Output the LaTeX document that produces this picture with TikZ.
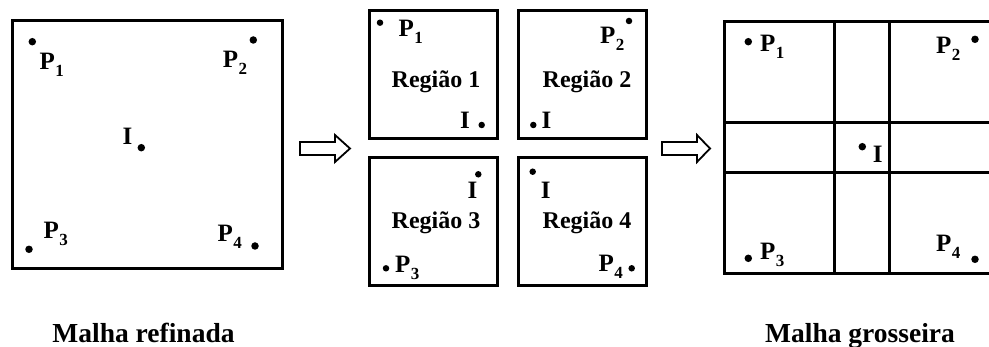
\documentclass[tikz,border=0pt]{standalone}
\usepackage{fontspec}
\setmainfont{Liberation Serif}
\newcommand{\Psub}[1]{P\kern0.5pt\raisebox{-7pt}{\fontsize{17}{17}\selectfont #1}}
\begin{document}
\begin{tikzpicture}[x=1pt,y=-1pt,
  box/.style={draw, line width=3pt},
  gridline/.style={draw, line width=3pt},
  dot/.style={circle, fill, inner sep=0pt, minimum size=7.5pt},
  sdot/.style={circle, fill, inner sep=0pt, minimum size=6.5pt},
  lbl/.style={inner sep=0pt, anchor=base west, font=\bfseries\fontsize{25}{25}\selectfont},
  reg/.style={inner sep=0pt, anchor=base, font=\bfseries\fontsize{24}{24}\selectfont},
  captext/.style={inner sep=0pt, anchor=base, font=\bfseries\fontsize{27.5}{27.5}\selectfont},
  blockarrow/.style={draw, line width=1.8pt, fill=white, line join=miter}]
\useasboundingbox (0,0) rectangle (989,347);

% ---------- left: refined mesh ----------
\draw[box] (12,21) rectangle (282,269);
\node[dot] (l1d) at (32.3,41.7) {};
\node[lbl] (l1) at (39.3,70) {\Psub{1}};
\node[dot] (l2d) at (253.3,40) {};
\node[lbl] (l2) at (222.7,67.7) {\Psub{2}};
\node[lbl] (lI) at (122.3,145) {I};
\node[dot] (lId) at (141.3,147.7) {};
\node[dot] (l3d) at (29,249.3) {};
\node[lbl] (l3) at (43.3,239) {\Psub{3}};
\node[lbl] (l4) at (217.3,241.7) {\Psub{4}};
\node[dot] (l4d) at (255,246) {};

% ---------- arrow 1 ----------
\draw[blockarrow] (300,142) -- (335,142) -- (335,135) -- (350,148.5) -- (335,162) -- (335,155) -- (300,155) -- cycle;

% ---------- middle: four regions ----------
\draw[box] (369,11) rectangle (497.3,138.3);
\draw[box] (518.3,11) rectangle (646.7,138.3);
\draw[box] (369,157.3) rectangle (497.3,285.5);
\draw[box] (518.3,157.3) rectangle (646.7,285.5);

% region 1
\node[sdot] (r1d) at (380,22.7) {};
\node[lbl] (r1p) at (398.3,36.7) {\Psub{1}};
\node[reg] (r1t) at (436,87.3) {Região 1};
\node[lbl] (r1i) at (460,129) {I};
\node[sdot] (r1id) at (481.7,125) {};
% region 2
\node[sdot] (r2d) at (629,21) {};
\node[lbl] (r2p) at (600,43.3) {\Psub{2}};
\node[reg] (r2t) at (587,87.3) {Região 2};
\node[sdot] (r2id) at (533.3,125) {};
\node[lbl] (r2i) at (541.5,129) {I};
% region 3
\node[sdot] (r3id) at (478.3,174.3) {};
\node[lbl] (r3i) at (467.3,199) {I};
\node[reg] (r3t) at (436,228.5) {Região 3};
\node[sdot] (r3d) at (386,268.3) {};
\node[lbl] (r3p) at (395,273) {\Psub{3}};
% region 4
\node[sdot] (r4id) at (532.7,171.7) {};
\node[lbl] (r4i) at (540.7,198.3) {I};
\node[reg] (r4t) at (587,228.5) {Região 4};
\node[lbl] (r4p) at (598.3,271.7) {\Psub{4}};
\node[sdot] (r4d) at (631.7,268.3) {};

% ---------- arrow 2 ----------
\draw[blockarrow] (662,142) -- (697,142) -- (697,135) -- (710,148.5) -- (697,162) -- (697,155) -- (662,155) -- cycle;

% ---------- right: coarse mesh ----------
\draw[gridline] (724.3,21.7) rectangle (991,274);
\draw[gridline] (834.3,21.7) -- (834.3,274);
\draw[gridline] (889.3,21.7) -- (889.3,274);
\draw[gridline] (724.3,122.3) -- (991,122.3);
\draw[gridline] (724.3,172.3) -- (991,172.3);

\node[dot] (g1d) at (748.3,41.7) {};
\node[lbl] (g1) at (760,51.7) {\Psub{1}};
\node[lbl] (g2) at (936,53.3) {\Psub{2}};
\node[dot] (g2d) at (975,39.3) {};
\node[dot] (gId) at (862.3,146.7) {};
\node[lbl] (gI) at (872.7,162.7) {I};
\node[dot] (g3d) at (748.3,258.3) {};
\node[lbl] (g3) at (760,259.3) {\Psub{3}};
\node[lbl] (g4) at (936,251.7) {\Psub{4}};
\node[dot] (g4d) at (975,259.3) {};

% ---------- captions ----------
\node[captext] (c1) at (143.5,343) {Malha refinada};
\node[captext] (c2) at (860,343) {Malha grosseira};
\end{tikzpicture}
\end{document}
